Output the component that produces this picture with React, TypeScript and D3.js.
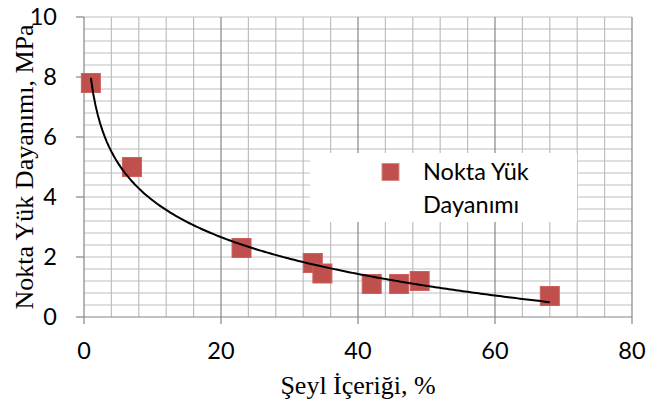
import React from "react";
import * as d3 from "d3";

const shaleContent = [1, 7, 23, 33.4, 34.8, 42, 46, 49, 68];
const pointLoadStrength = [7.8, 5.0, 2.3, 1.8, 1.45, 1.1, 1.1, 1.2, 0.7];
const xTicks = [0, 20, 40, 60, 80];
const yTicks = [0, 2, 4, 6, 8, 10];
const seriesName = ["Nokta Yük", "Dayanımı"];
const xTitle = "Şeyl İçeriği, %";
const yTitle = "Nokta Yük Dayanımı, MPa";

const W = 661;
const H = 407;
const left = 84;
const right = 632;
const top = 17;
const bottom = 317;

export default function App() {
  const x = d3.scaleLinear().domain([0, 80]).range([left, right]);
  const y = d3.scaleLinear().domain([0, 10]).range([bottom, top]);

  // logarithmic least-squares trendline (as in the spreadsheet)
  const lx = shaleContent.map((v) => Math.log(v));
  const mx = d3.mean(lx) as number;
  const my = d3.mean(pointLoadStrength) as number;
  let sxy = 0;
  let sxx = 0;
  lx.forEach((v, i) => {
    sxy += (v - mx) * (pointLoadStrength[i] - my);
    sxx += (v - mx) * (v - mx);
  });
  const a = sxy / sxx;
  const b = my - a * mx;
  const xMin = d3.min(shaleContent) as number;
  const xMax = d3.max(shaleContent) as number;
  const trendX = d3.range(0, 201).map((i) => xMin + ((xMax - xMin) * i) / 200);
  const line = d3
    .line<number>()
    .x((d) => x(d))
    .y((d) => y(a * Math.log(d) + b))
    .curve(d3.curveLinear);

  const minorX = d3.range(4, 80, 4).filter((v) => v % 20 !== 0);
  const minorY = d3.range(1, 26).map((i) => i * 0.4);

  const ms = 19;
  const tickFont = "Lato, 'Open Sans', sans-serif";
  const titleFont = "'Liberation Serif', 'Times New Roman', serif";
  const fs = 23.5;

  return (
    <svg
      width={W}
      height={H}
      style={{ position: "absolute", left: 0, top: 0, background: "#fff" }}
    >
      <rect x={0} y={0} width={W} height={H} fill="#fff" />
      {/* minor gridlines */}
      {minorY.map((v) => (
        <line key={"hy" + v} x1={left} x2={right} y1={y(v)} y2={y(v)} stroke="#bfbfbf" strokeWidth={1.2} />
      ))}
      {minorX.map((v) => (
        <line key={"vx" + v} x1={x(v)} x2={x(v)} y1={top} y2={bottom} stroke="#bfbfbf" strokeWidth={1.2} />
      ))}
      {/* major vertical gridlines */}
      {xTicks.filter((v) => v > 0).map((v) => (
        <line key={"mx" + v} x1={x(v)} x2={x(v)} y1={top} y2={bottom} stroke="#868686" strokeWidth={1.2} />
      ))}
      {/* legend box */}
      <rect x={310} y={153} width={267} height={69} fill="#fff" />
      {/* axes */}
      <line x1={left} x2={right} y1={bottom} y2={bottom} stroke="#868686" strokeWidth={1.2} />
      <line x1={left} x2={left} y1={top} y2={bottom} stroke="#868686" strokeWidth={1.2} />
      {yTicks.map((v) => (
        <g key={"yt" + v}>
          <line x1={left - 8} x2={left} y1={y(v)} y2={y(v)} stroke="#868686" strokeWidth={1.2} />
          <text x={57} y={y(v) + 8} textAnchor="end" fontFamily={tickFont} fontSize={fs} fill="#000">
            {v}
          </text>
        </g>
      ))}
      {xTicks.map((v) => (
        <g key={"xt" + v}>
          <line x1={x(v)} x2={x(v)} y1={bottom} y2={bottom + 7} stroke="#868686" strokeWidth={1.2} />
          <text x={x(v)} y={359} textAnchor="middle" fontFamily={tickFont} fontSize={fs} fill="#000">
            {v}
          </text>
        </g>
      ))}
      {/* markers */}
      {shaleContent.map((v, i) => (
        <rect
          key={"p" + i}
          x={x(v) - ms / 2}
          y={y(pointLoadStrength[i]) - ms / 2}
          width={ms}
          height={ms}
          fill="#c0504d"
          stroke="#cc615e"
          strokeWidth={1}
        />
      ))}
      {/* trendline */}
      <path d={line(trendX) || ""} fill="none" stroke="#000" strokeWidth={2} />
      {/* legend */}
      <rect x={382} y={163.5} width={17} height={17} fill="#c0504d" stroke="#d98a88" strokeWidth={1} />
      <text x={423} y={179.5} fontFamily={tickFont} fontSize={fs} fill="#000">
        {seriesName[0]}
      </text>
      <text x={423} y={212.5} fontFamily={tickFont} fontSize={fs} fill="#000">
        {seriesName[1]}
      </text>
      {/* axis titles */}
      <text x={(left + right) / 2} y={394} textAnchor="middle" fontFamily={titleFont} fontSize={26} fill="#000">
        {xTitle}
      </text>
      <text
        transform={`translate(33, ${(top + bottom) / 2}) rotate(-90)`}
        textAnchor="middle"
        fontFamily={titleFont}
        fontSize={26}
        fill="#000"
      >
        {yTitle}
      </text>
    </svg>
  );
}
